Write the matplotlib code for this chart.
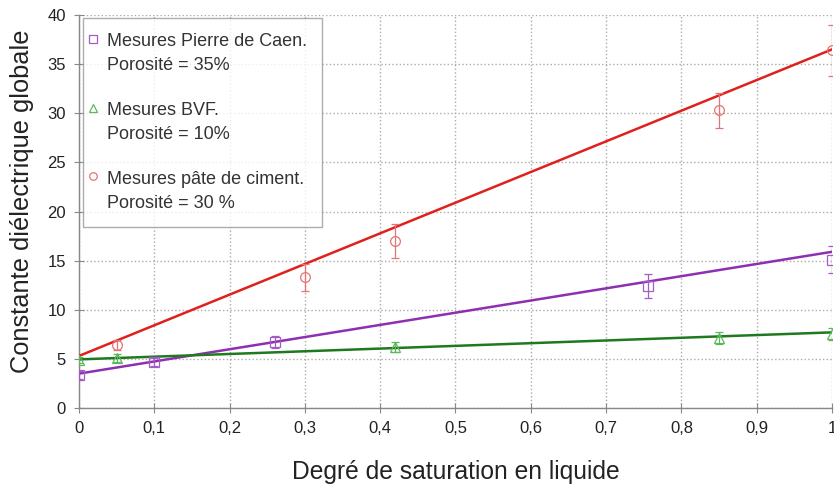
import matplotlib
matplotlib.use('Agg')
import matplotlib.pyplot as plt
from matplotlib.ticker import FuncFormatter
from matplotlib.lines import Line2D
from matplotlib.legend_handler import HandlerLine2D
from matplotlib.transforms import Affine2D

plt.rcParams['font.family'] = ['Liberation Sans', 'DejaVu Sans']

# mesures Pierre de Caen
caen_x = [0.0, 0.1, 0.26, 0.755, 1.0]
caen_y = [3.4, 4.7, 6.7, 12.4, 15.1]
caen_err = [0.4, 0.4, 0.6, 1.2, 1.4]
caen_fit = [3.5, 15.9]

# mesures BVF
bvf_x = [0.0, 0.05, 0.42, 0.85, 1.0]
bvf_y = [4.9, 5.1, 6.25, 7.1, 7.5]
bvf_err = [0.3, 0.4, 0.5, 0.6, 0.6]
bvf_fit = [4.95, 7.7]

# mesures pate de ciment
cim_x = [0.05, 0.3, 0.42, 0.85, 1.0]
cim_y = [6.4, 13.3, 17.0, 30.3, 36.4]
cim_err = [0.5, 1.4, 1.7, 1.8, 2.6]
cim_fit = [5.3, 36.5]

fit_x = [0.0, 1.0]

x_ticks = [0, 0.1, 0.2, 0.3, 0.4, 0.5, 0.6, 0.7, 0.8, 0.9, 1.0]
y_ticks = [0, 5, 10, 15, 20, 25, 30, 35, 40]


class FirstLineHandler(HandlerLine2D):
    # place the marker on the first line of a two-line label
    def create_artists(self, legend, orig_handle, xdescent, ydescent,
                       width, height, fontsize, trans):
        px = legend.figure.dpi / 72.0
        t = Affine2D().translate(-0.25 * fontsize * px, 0.6 * fontsize * px) + trans
        return super().create_artists(legend, orig_handle, xdescent, ydescent,
                                      width, height, fontsize, t)


fig = plt.figure(figsize=(8.34, 4.92), dpi=100)
ax = fig.add_axes([0.0947, 0.1707, 0.9029, 0.7988])

series = [
    (caen_x, caen_y, caen_err, caen_fit, 's', '#a35cc4', '#8e2fb0',
     'Mesures Pierre de Caen.\nPorosité = 35%'),
    (bvf_x, bvf_y, bvf_err, bvf_fit, '^', '#5cb85c', '#1f7a1f',
     'Mesures BVF.\nPorosité = 10%'),
    (cim_x, cim_y, cim_err, cim_fit, 'o', '#e57373', '#e0201c',
     'Mesures pâte de ciment.\nPorosité = 30 %'),
]

handles = []
for xs, ys, err, fit, mk, mcol, lcol, lab in series:
    ax.plot(fit_x, fit, color=lcol, lw=1.8, zorder=3)
    h = ax.errorbar(xs, ys, yerr=err, fmt=mk, ms=7, mfc='none', mec=mcol,
                    mew=0.9, ecolor=mcol, elinewidth=0.9, capsize=3,
                    capthick=0.9, zorder=4, label=lab)
    handles.append(h)

ax.set_xlim(0, 1)
ax.set_ylim(0, 40)
ax.set_xticks(x_ticks)
ax.set_yticks(y_ticks)
ax.xaxis.set_major_formatter(FuncFormatter(lambda v, p: ('%g' % v).replace('.', ',')))
ax.tick_params(direction='inout', length=7, width=0.8, color='#888888',
               labelsize=12, labelcolor='#222222', pad=6)
ax.grid(True, linestyle=':', color='#aaaaaa', lw=1.0)
for s in ['top', 'right']:
    ax.spines[s].set_visible(False)
for s in ['left', 'bottom']:
    ax.spines[s].set_color('#888888')
    ax.spines[s].set_linewidth(1.0)

ax.set_xlabel('Degré de saturation en liquide', fontsize=17.7, color='#222222', labelpad=17)
ax.set_ylabel('Constante diélectrique globale', fontsize=18.3, color='#222222')
ax.yaxis.set_label_coords(-0.06, 0.527)

leg = ax.legend(handles=[h[0] for h in handles],
                labels=[s[7] for s in series],
                handler_map={Line2D: FirstLineHandler()},
                loc='upper left', bbox_to_anchor=(0.0053, 0.9924),
                borderaxespad=0, fontsize=13, frameon=True, fancybox=False,
                edgecolor='#999999', handlelength=0.1, handletextpad=0.38,
                labelspacing=1.57, borderpad=0.85, markerscale=0.78)
leg.get_frame().set_linewidth(1.0)
for t in leg.get_texts():
    t.set_color('#333333')
    t.set_linespacing(1.5)

fig.savefig('out.png', dpi=100)
